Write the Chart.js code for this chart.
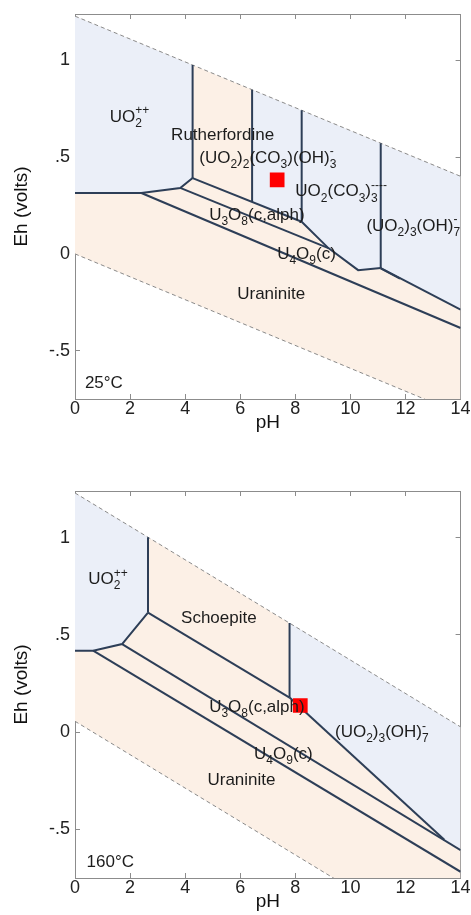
<!DOCTYPE html>
<html>
<head>
<meta charset="utf-8">
<script src="https://cdn.jsdelivr.net/npm/chart.js@4.4.1/dist/chart.umd.min.js"></script>
<style>
  html, body { margin: 0; padding: 0; background: #fff; }
  #wrap { position: relative; width: 471px; height: 915px; }
  canvas { position: absolute; left: 0; }
  #c25 { top: 0; }
  #c160 { top: 436px; }
</style>
</head>
<body>
<div id="wrap">
  <canvas id="c25" width="471" height="436"></canvas>
  <canvas id="c160" width="471" height="479"></canvas>
</div>
<script>
const fam = '"Liberation Sans", Arial, Helvetica, sans-serif';
const xTicks = [0, 2, 4, 6, 8, 10, 12, 14];
const yTicks = [-0.5, 0, 0.5, 1];
const yTickLabels = ["-.5", "0", ".5", "1"];

// 25 C panel
const water25Top = [[0, 1.229], [14, 0.401]];
const water25Bottom = [[0, 0], [14, -0.828]];
const uo2Top25 = [[0, 1.229], [4.27, 0.976]];
const uo2Bottom25 = [[0, 0.315], [2.41, 0.315], [3.82, 0.341], [4.27, 0.392]];
const carbOhTop25 = [[6.43, 0.849], [8.23, 0.742]];
const carbOhBottom25 = [[6.43, 0.268], [8.23, 0.166]];
const tricarbTop25 = [[8.23, 0.742], [11.1, 0.572]];
const tricarbBottom25 = [[8.23, 0.166], [9.2, 0.03], [10.28, -0.084], [11.1, -0.073]];
const hydroxTop25 = [[11.1, 0.572], [14, 0.401]];
const hydroxBottom25 = [[11.1, -0.073], [14, -0.288]];
const lines25 = [
  [[4.27, 0.976], [4.27, 0.392]],
  uo2Bottom25,
  [[4.27, 0.392], [8.23, 0.166]],
  [[3.82, 0.341], [9.2, 0.03]],
  [[2.41, 0.315], [14, -0.383]],
  [[6.43, 0.849], [6.43, 0.268]],
  [[8.23, 0.742], [8.23, 0.166]],
  [[11.1, 0.572], [11.1, -0.073]],
  tricarbBottom25,
  hydroxBottom25,
  [[11.1, -0.075], [11.8, -0.128]]
];
const sample25 = [7.34, 0.383];
const labels25 = [
  ["UO_2^{++}", 1.26, 0.683],
  ["Rutherfordine", 3.49, 0.59],
  ["(UO_2)_2(CO_3)(OH)_3^-", 4.51, 0.47],
  ["UO_2(CO_3)_3^{----}", 8.0, 0.297],
  ["(UO_2)_3(OH)_7^-", 10.58, 0.12],
  ["U_3O_8(c,alph)", 4.87, 0.177],
  ["U_4O_9(c)", 7.34, -0.026],
  ["Uraninite", 5.89, -0.233],
  ["25°C", 0.36, -0.693]
];

// 160 C panel
const water160Top = [[0, 1.23], [14, 0.027]];
const water160Bottom = [[0, 0.056], [14, -1.147]];
const uo2Top160 = [[0, 1.23], [2.65, 1.002]];
const uo2Bottom160 = [[0, 0.419], [0.66, 0.419], [1.71, 0.453], [2.65, 0.615]];
const hydroxTop160 = [[7.79, 0.561], [14, 0.027]];
const hydroxBottom160 = [[7.79, 0.178], [13.41, -0.553], [14, -0.607]];
const lines160 = [
  [[2.65, 1.002], [2.65, 0.615]],
  uo2Bottom160,
  [[2.65, 0.615], [7.79, 0.178]],
  [[1.71, 0.453], [14, -0.607]],
  [[0.66, 0.419], [14, -0.718]],
  [[7.79, 0.561], [7.79, 0.178]],
  [[7.79, 0.178], [13.41, -0.553]]
];
const sample160 = [8.18, 0.137];
const labels160 = [
  ["UO_2^{++}", 0.48, 0.761],
  ["Schoepite", 3.85, 0.559],
  ["U_3O_8(c,alph)", 4.87, 0.106],
  ["(UO_2)_3(OH)_7^-", 9.44, -0.026],
  ["U_4O_9(c)", 6.5, -0.136],
  ["Uraninite", 4.81, -0.27],
  ["160°C", 0.42, -0.691]
];

const peach = "#fcf0e6";
const blue = "#ebeff8";
const lineColor = "#2d3e57";
const axisGray = "#8c8c8c";

function pts(a) {
  return a.map(p => ({x: p[0], y: p[1]}));
}

function drawRich(ctx, str, x, y, size) {
  let runs = [];
  let i = 0;
  while (i < str.length) {
    let c = str[i];
    if (c === "_" || c === "^") {
      let t;
      if (str[i + 1] === "{") {
        let j = str.indexOf("}", i);
        t = str.slice(i + 2, j);
        i = j + 1;
      } else {
        t = str[i + 1];
        i += 2;
      }
      runs.push({t: t, m: c});
    } else {
      let j = i;
      while (j < str.length && str[j] !== "_" && str[j] !== "^") j++;
      runs.push({t: str.slice(i, j), m: ""});
      i = j;
    }
  }
  let big = size + "px " + fam;
  let small = Math.round(size * 0.72) + "px " + fam;
  let shift = m => (m === "_" ? size * 0.3 : -size * 0.45);
  let cx = x;
  for (let k = 0; k < runs.length; k++) {
    let r = runs[k];
    if (r.m === "") {
      ctx.font = big;
      ctx.fillText(r.t, cx, y);
      cx += ctx.measureText(r.t).width;
      continue;
    }
    ctx.font = small;
    let w = ctx.measureText(r.t).width;
    ctx.fillText(r.t, cx, y + shift(r.m));
    let n = runs[k + 1];
    if (n && n.m && n.m !== r.m) {
      ctx.fillText(n.t, cx, y + shift(n.m));
      w = Math.max(w, ctx.measureText(n.t).width);
      k++;
    }
    cx += w;
  }
}

function labelPlugin(items) {
  return {
    id: "richLabels",
    afterDatasetsDraw(chart) {
      let ctx = chart.ctx;
      let xs = chart.scales.x, ys = chart.scales.y;
      ctx.save();
      ctx.fillStyle = "#1c1c1c";
      ctx.textAlign = "left";
      ctx.textBaseline = "alphabetic";
      items.forEach(it => drawRich(ctx, it[0], xs.getPixelForValue(it[1]), ys.getPixelForValue(it[2]), 17));
      ctx.restore();
    }
  };
}

function flat(s) {
  s.paddingLeft = 0;
  s.paddingRight = 0;
  s.paddingTop = 0;
  s.paddingBottom = 0;
}

function buildChart(id, p) {
  let ds = [];
  function addFill(upper, lower, color, order) {
    ds.push({data: pts(upper), fill: "+1", backgroundColor: color, borderColor: "rgba(0,0,0,0)", pointRadius: 0, order: order});
    ds.push({data: pts(lower), fill: false, borderColor: "rgba(0,0,0,0)", pointRadius: 0, order: order});
  }
  addFill(p.waterTop, p.waterBottom, peach, 30);
  p.blue.forEach(f => addFill(f[0], f[1], blue, 20));
  [p.waterTop, p.waterBottom].forEach(w => {
    ds.push({data: pts(w), fill: false, borderColor: "#8a8a8a", borderWidth: 1, borderDash: [4, 3], pointRadius: 0, order: 10});
  });
  p.lines.forEach(l => {
    ds.push({data: pts(l), fill: false, borderColor: lineColor, borderWidth: 2, pointRadius: 0, order: 5});
  });
  ds.push({data: pts([p.sample]), showLine: false, pointStyle: "rect", pointRadius: 10.4,
    backgroundColor: "#ff0000", borderWidth: 0, order: 1});

  return new Chart(document.getElementById(id), {
    type: "line",
    data: {datasets: ds},
    plugins: [labelPlugin(p.labels)],
    options: {
      responsive: false,
      animation: false,
      events: [],
      layout: {padding: {top: p.top, right: 8, left: 0, bottom: 0}},
      plugins: {legend: {display: false}, tooltip: {enabled: false}},
      scales: {
        x: {
          type: "linear", position: "bottom", min: 0, max: 14,
          afterBuildTicks: s => { s.ticks = xTicks.map(v => ({value: v})); },
          afterFit: s => { s.height = 37; flat(s); },
          border: {color: axisGray},
          grid: {drawOnChartArea: false, tickLength: -5, tickColor: axisGray},
          ticks: {padding: 4, color: "#222", maxRotation: 0, autoSkip: false, font: {size: 18, family: fam},
            callback: v => String(v)},
          title: {display: true, text: "pH", color: "#111", font: {size: 19, family: fam}, padding: {top: 0, bottom: 2}}
        },
        y: {
          type: "linear", position: "left", min: -0.75, max: 1.24,
          afterBuildTicks: s => { s.ticks = yTicks.map(v => ({value: v})); },
          afterFit: s => { s.width = 75; flat(s); },
          border: {color: axisGray},
          grid: {drawOnChartArea: false, tickLength: -5, tickColor: axisGray},
          ticks: {padding: 10, color: "#222", autoSkip: false, font: {size: 18, family: fam},
            callback: (v, i) => yTickLabels[i]},
          title: {display: true, text: "Eh (volts)", color: "#111", font: {size: 19, family: fam}, padding: {top: 10, bottom: 0}}
        },
        x2: {
          type: "linear", position: "top", min: 0, max: 14,
          afterBuildTicks: s => { s.ticks = xTicks.map(v => ({value: v})); },
          afterFit: s => { s.height = 0; flat(s); },
          border: {color: axisGray},
          grid: {drawOnChartArea: false, tickLength: -5, tickColor: axisGray},
          ticks: {display: false}
        },
        y2: {
          type: "linear", position: "right", min: -0.75, max: 1.24,
          afterBuildTicks: s => { s.ticks = yTicks.map(v => ({value: v})); },
          afterFit: s => { s.width = 0; flat(s); },
          border: {color: axisGray},
          grid: {drawOnChartArea: false, tickLength: -5, tickColor: axisGray},
          ticks: {display: false}
        }
      }
    }
  });
}

buildChart("c25", {
  top: 14,
  waterTop: water25Top, waterBottom: water25Bottom,
  blue: [[uo2Top25, uo2Bottom25], [carbOhTop25, carbOhBottom25], [tricarbTop25, tricarbBottom25], [hydroxTop25, hydroxBottom25]],
  lines: lines25, sample: sample25, labels: labels25
});

buildChart("c160", {
  top: 55,
  waterTop: water160Top, waterBottom: water160Bottom,
  blue: [[uo2Top160, uo2Bottom160], [hydroxTop160, hydroxBottom160]],
  lines: lines160, sample: sample160, labels: labels160
});
</script>
</body>
</html>
